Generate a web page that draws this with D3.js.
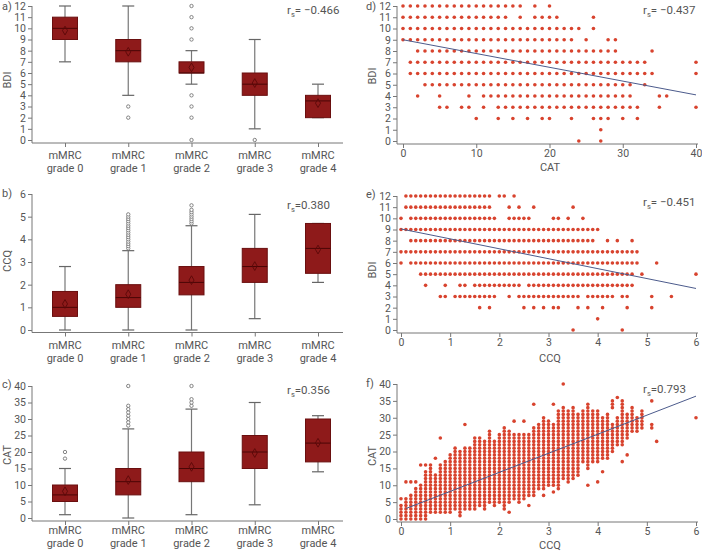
<!DOCTYPE html>
<html>
<head>
<meta charset="utf-8">
<script src="https://cdn.jsdelivr.net/npm/d3@7"></script>
<style>
body { margin: 0; background: #fff; }
svg text { font-family: Roboto, "DejaVu Sans", sans-serif; fill: #555; font-size: 11px; }
svg .tick text { font-size: 10.5px; }
</style>
</head>
<body>
<svg id="chart" width="702" height="552"></svg>
<script>
"use strict";

// ---- box plot data: [whiskerLow, q1, median, q3, whiskerHigh, mean]
const grades = ["grade 0", "grade 1", "grade 2", "grade 3", "grade 4"];
const bdiStats = [[7, 9, 10, 11, 12, 9.8], [4, 7, 8, 9, 12, 7.9], [5, 6, 6, 7, 8, 6.5], [1, 4, 5, 6, 9, 5.1], [2, 2, 3.5, 4, 5, 3.3]];
const bdiOutliers = [[], [3, 2], [12, 11, 10, 9, 4, 3, 2, 0], [0], []];
const ccqStats = [[0, 0.6, 1.0, 1.7, 2.8, 1.15], [0, 1.0, 1.43, 2.0, 3.5, 1.58], [0, 1.55, 2.1, 2.8, 4.6, 2.2], [0.5, 2.1, 2.8, 3.6, 5.1, 2.82], [2.1, 2.5, 3.6, 4.7, 4.7, 3.55]];
const ccqOutliers = [[], [3.6, 3.7, 3.8, 3.9, 4.0, 4.1, 4.2, 4.3, 4.4, 4.5, 4.6, 4.7, 4.8, 4.9, 5.0, 5.1], [4.7, 4.8, 4.9, 5.0, 5.1, 5.2, 5.3, 5.5], [], []];
const catStats = [[1, 5, 7, 10, 15, 8.1], [0, 7, 11, 15, 27, 11.5], [1, 11, 15, 20, 33, 15.5], [4, 15, 20, 25, 35, 19.7], [14, 17, 22.7, 30, 31, 22.8]];
const catOutliers = [[18, 20], [28, 29, 30, 31, 32, 33, 34, 40], [34, 35, 36, 40], [], []];

// ---- scatter data, runs of values ("a-b" = every integer from a to b)
const bdiLevels = [12, 11, 10, 9, 8, 7, 6, 5, 4, 3, 2, 1, 0];
// d) CAT values present for each BDI level
const catByBdi = [
    "0-16,18,20",
    "0-14,16,18,19,20,21,26",
    "0-24,26",
    "0-23,25,28,29",
    "2-29,34",
    "1-33,40",
    "1-34,40",
    "3-31,33",
    "2,5,9,11-31,35,36",
    "5,6,8,9,11,13-32,35,40",
    "10,13,15,17,19,20,23,26,27,28,30,32",
    "27",
    "24,27"
];
// e) CCQ values (in tenths) present for each BDI level
const ccqTenthsByBdi = [
    "1-18,20,21,23",
    "1-18,22,24,27,35",
    "0,2-19,22-26,31,32,34,37",
    "0-40",
    "2-39,42,44,47",
    "0-48",
    "0,2-48,52",
    "4-47,49,60",
    "5,9,12,13,15-24,26-47",
    "8,9,11-19,22,24-36,38-43,45,46,51,55",
    "16,18,25,27,29,31,32,36,38,41,46,51",
    "40",
    "35,45"
];
// f) CAT values present for each CCQ column (CCQ in tenths)
const ccqTenths = [0, 1, 2, 3, 4, 5, 6, 7, 8, 9, 10, 11, 12, 13, 14, 15, 16, 17, 18, 19, 20,
    21, 22, 23, 24, 25, 26, 27, 28, 29, 30, 31, 32, 33, 34, 35, 36, 37, 38, 39, 40,
    41, 42, 43, 44, 45, 46, 47, 48, 49, 51, 52, 60];
const catByCcq = [
    "0-4,6", "0-6,11", "0-7,11", "0-9,11", "0-10,16", "0-14,16", "2-16", "2-13,18", "2-16,24", "2-17",
    "2-19", "3-21", "1-20", "3-21,28", "3-21", "3-24", "4-24", "3-23", "5-26", "4-23",
    "5-25", "3-27", "2,5-26", "6-25,29", "5-25", "6-25,29", "4,7-25", "7-27,34", "9-28", "7,9-30",
    "10-29", "8,10-28,34", "9-32", "12-33,40", "11-32", "12-33", "13-31", "17-32", "10,15-34", "17-32",
    "11,17-32", "14,18-30", "18-31", "20-28,33-35", "22-30,36", "17,22-35", "19,24-31", "26-33", "26-30", "27-32",
    "27,28,35", "23", "30"
];

// regression lines [x, y] at both ends
const lineD = [[0, 9.0], [40, 4.1]];
const lineE = [[0, 9.05], [6, 3.72]];
const lineF = [[0.1, 3.1], [6, 36.4]];

const boxFill = "#8e1a1a";
const boxStroke = "#6a0f0f";
const dotColor = "#d8432e";
const lineColor = "#4c5b8c";
const axisColor = "#777";

const svg = d3.select("#chart");

function expand(spec) {
    return spec.split(",").flatMap(p => {
        let [a, b] = p.split("-").map(Number);
        return b === undefined ? [a] : d3.range(a, b + 1);
    });
}

function rsLabel(x, y, value) {
    let t = svg.append("text").attr("x", x).attr("y", y).style("font-size", "11.5px");
    t.append("tspan").text("r");
    t.append("tspan").attr("dy", 3).style("font-size", "7.5px").text("s");
    t.append("tspan").attr("dy", -3).text(value);
}

function yTitle(x, y, label) {
    svg.append("text")
        .attr("transform", `translate(${x},${y}) rotate(-90)`)
        .attr("text-anchor", "middle")
        .text(label);
}

function drawYAxis(y, ticks, axisX, top, bottom) {
    let g = svg.append("g").attr("transform", `translate(${axisX},0)`)
        .call(d3.axisLeft(y).tickValues(ticks).tickFormat(d3.format("d")).tickSize(4).tickPadding(2).tickSizeOuter(0));
    g.select(".domain").remove();
    g.selectAll(".tick line").attr("stroke", axisColor);
    g.selectAll(".tick text").attr("fill", "#555");
    g.append("line").attr("y1", top).attr("y2", bottom).attr("stroke", axisColor);
    return g;
}

function boxPanel(opt) {
    const x = d3.scalePoint().domain(grades).range([65, 318]);
    const y = d3.scaleLinear().domain(opt.domain).range(opt.range);

    drawYAxis(y, opt.ticks, 32, opt.range[1], opt.axisY);

    let xa = svg.append("g").attr("transform", `translate(0,${opt.axisY})`)
        .call(d3.axisBottom(x).tickSize(4).tickFormat(""));
    xa.select(".domain").remove();
    xa.selectAll(".tick line").attr("stroke", axisColor);
    xa.append("line").attr("x1", 32).attr("x2", 343).attr("stroke", axisColor);

    grades.forEach((gname, i) => {
        let s = opt.stats[i];
        let cx = x(gname);
        let g = svg.append("g");
        // whiskers
        g.append("line").attr("x1", cx).attr("x2", cx).attr("y1", y(s[0])).attr("y2", y(s[4]))
            .attr("stroke", axisColor).attr("stroke-width", 1.2);
        [s[0], s[4]].forEach(v => {
            g.append("line").attr("x1", cx - 6).attr("x2", cx + 6).attr("y1", y(v)).attr("y2", y(v))
                .attr("stroke", "#666").attr("stroke-width", 1.2);
        });
        g.append("rect")
            .attr("x", cx - 12.5).attr("width", 25)
            .attr("y", y(s[3])).attr("height", y(s[1]) - y(s[3]))
            .attr("fill", boxFill).attr("stroke", boxStroke);
        g.append("line").attr("x1", cx - 12.5).attr("x2", cx + 12.5).attr("y1", y(s[2])).attr("y2", y(s[2]))
            .attr("stroke", "#4a0606").attr("stroke-width", 1);
        g.append("path")
            .attr("d", d3.symbol(d3.symbolDiamond, 22)())
            .attr("transform", `translate(${cx},${y(s[5])})`)
            .attr("fill", "none").attr("stroke", "#5a0808").attr("stroke-width", 0.9);
        opt.outliers[i].forEach(v => {
            g.append("circle").attr("cx", cx).attr("cy", y(v)).attr("r", 1.7)
                .attr("fill", "#fff").attr("stroke", "#777").attr("stroke-width", 0.9);
        });
        svg.append("text").attr("x", cx).attr("y", opt.labelY).attr("text-anchor", "middle").text("mMRC");
        svg.append("text").attr("x", cx).attr("y", opt.labelY + 13).attr("text-anchor", "middle").text(gname);
    });

    svg.append("text").attr("x", 2).attr("y", opt.letterY).text(opt.letter);
    yTitle(11, opt.titleY, opt.title);
    rsLabel(287, opt.rsY, opt.rs);
}

function scatterPanel(opt) {
    const x = d3.scaleLinear().domain(opt.xDomain).range(opt.xRange);
    const y = d3.scaleLinear().domain(opt.yDomain).range(opt.yRange);

    drawYAxis(y, opt.yTicks, 397, opt.yRange[1], opt.axisY);

    let xa = svg.append("g").attr("transform", `translate(0,${opt.axisY})`)
        .call(d3.axisBottom(x).tickValues(opt.xTicks).tickFormat(d3.format("d")).tickSize(4).tickPadding(2).tickSizeOuter(0));
    xa.select(".domain").remove();
    xa.selectAll(".tick line").attr("stroke", axisColor);
    xa.selectAll(".tick text").attr("fill", "#555");
    xa.append("line").attr("x1", 397).attr("x2", 698).attr("stroke", axisColor);

    svg.append("g").selectAll("circle")
        .data(opt.points)
        .enter()
        .append("circle")
        .attr("cx", d => x(d[0]))
        .attr("cy", d => y(d[1]))
        .attr("r", 1.8)
        .attr("fill", dotColor);

    svg.append("path")
        .datum(opt.line)
        .attr("d", d3.line().x(d => x(d[0])).y(d => y(d[1])))
        .attr("fill", "none").attr("stroke", lineColor).attr("stroke-width", 1);

    svg.append("text").attr("x", 366).attr("y", opt.letterY).text(opt.letter);
    yTitle(376, opt.titleY, opt.yTitle);
    svg.append("text").attr("x", 550).attr("y", opt.xTitleY).attr("text-anchor", "middle").text(opt.xTitle);
    rsLabel(643, opt.rsY, opt.rs);
}

// build point lists
let pointsD = [];
bdiLevels.forEach((b, i) => expand(catByBdi[i]).forEach(c => pointsD.push([c, b])));
let pointsE = [];
bdiLevels.forEach((b, i) => expand(ccqTenthsByBdi[i]).forEach(c => pointsE.push([c / 10, b])));
let pointsF = [];
ccqTenths.forEach((c, i) => expand(catByCcq[i]).forEach(v => pointsF.push([c / 10, v])));

boxPanel({
    letter: "a)", letterY: 10, title: "BDI", titleY: 80, rs: "= \u22120.466", rsY: 14,
    domain: [0, 12], range: [140, 6], axisY: 143, ticks: d3.range(0, 13),
    stats: bdiStats, outliers: bdiOutliers, labelY: 159
});
boxPanel({
    letter: "b)", letterY: 197, title: "CCQ", titleY: 261, rs: "=0.380", rsY: 209,
    domain: [0, 6], range: [330, 194], axisY: 332.5, ticks: d3.range(0, 7),
    stats: ccqStats, outliers: ccqOutliers, labelY: 349
});
boxPanel({
    letter: "c)", letterY: 388, title: "CAT", titleY: 455, rs: "=0.356", rsY: 394,
    domain: [0, 40], range: [518, 386], axisY: 521, ticks: d3.range(0, 41, 5),
    stats: catStats, outliers: catOutliers, labelY: 534
});

scatterPanel({
    letter: "d)", letterY: 10, yTitle: "BDI", titleY: 76, xTitle: "CAT", xTitleY: 171, rs: "= \u22120.437", rsY: 14,
    xDomain: [0, 40], xRange: [403, 696], yDomain: [0, 12], yRange: [141, 6], axisY: 144,
    xTicks: [0, 10, 20, 30, 40], yTicks: d3.range(0, 13), points: pointsD, line: lineD
});
scatterPanel({
    letter: "e)", letterY: 198, yTitle: "BDI", titleY: 270, xTitle: "CCQ", xTitleY: 362, rs: "= \u22120.451", rsY: 206,
    xDomain: [0, 6], xRange: [401, 696], yDomain: [0, 12], yRange: [330, 196], axisY: 333,
    xTicks: d3.range(0, 7), yTicks: d3.range(0, 13), points: pointsE, line: lineE
});
scatterPanel({
    letter: "f)", letterY: 387, yTitle: "CAT", titleY: 456, xTitle: "CCQ", xTitleY: 549, rs: "=0.793", rsY: 393,
    xDomain: [0, 6], xRange: [401, 696], yDomain: [0, 40], yRange: [519, 384], axisY: 522,
    xTicks: d3.range(0, 7), yTicks: d3.range(0, 41, 5), points: pointsF, line: lineF
});
</script>
</body>
</html>
